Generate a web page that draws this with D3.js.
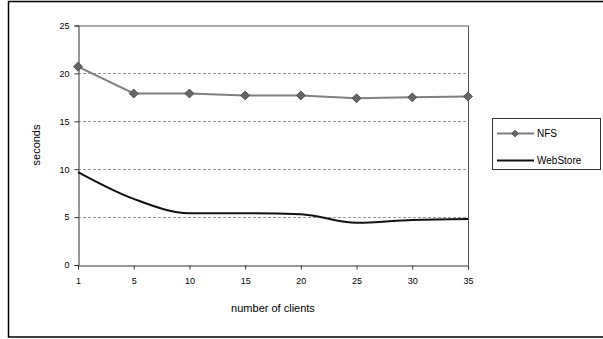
<!DOCTYPE html>
<html>
<head>
<meta charset="utf-8">
<script src="https://cdn.jsdelivr.net/npm/d3@7"></script>
<style>
  body { margin: 0; background: #fff; }
  text { font-family: Arial, "Liberation Sans", sans-serif; }
</style>
</head>
<body>
<svg id="chart" width="603" height="339"></svg>
<script>
// data
var clients = ["1", "5", "10", "15", "20", "25", "30", "35"];
var nfs = [20.7, 17.9, 17.9, 17.7, 17.7, 17.4, 17.5, 17.6];
var webStore = [9.7, 6.9, 5.4, 5.4, 5.3, 4.4, 4.7, 4.8];
var yTicks = [0, 5, 10, 15, 20, 25];
var seriesNames = ["NFS", "WebStore"];

var svg = d3.select("#chart");

// outer frame
svg.append("rect")
    .attr("x", 8.5).attr("y", 1.5)
    .attr("width", 600).attr("height", 335.5)
    .attr("fill", "none").attr("stroke", "#000").attr("stroke-width", 1.5);

var plot = {left: 78, top: 25.5, right: 468, bottom: 265};

var x = d3.scalePoint().domain(clients).range([plot.left, plot.right]);
var y = d3.scaleLinear().domain([0, 25]).range([plot.bottom, plot.top]);

// dashed grid
svg.append("g").selectAll("line")
    .data(yTicks.filter(d => d > 0 && d < 25))
    .enter().append("line")
    .attr("x1", plot.left).attr("x2", plot.right)
    .attr("y1", d => Math.round(y(d)) + 0.5).attr("y2", d => Math.round(y(d)) + 0.5)
    .attr("stroke", "#999").attr("stroke-dasharray", "3,2");

// plot border top / right
svg.append("path")
    .attr("d", "M" + plot.left + "," + (plot.top + 0.5) + "H" + (plot.right + 0.5) + "V" + plot.bottom)
    .attr("fill", "none").attr("stroke", "#555");

// axes
var yAxis = d3.axisLeft(y).tickValues(yTicks).tickSize(4).tickPadding(5);
var gy = svg.append("g").attr("transform", "translate(" + (plot.left + 0.5) + ",0)").call(yAxis);
var xAxis = d3.axisBottom(x).tickSize(4).tickPadding(8);
var gx = svg.append("g").attr("transform", "translate(0," + (plot.bottom + 0.5) + ")").call(xAxis);
[gx, gy].forEach(function (g) {
    g.select(".domain").attr("stroke", "#333");
    g.selectAll(".tick line").attr("stroke", "#333");
    g.selectAll(".tick text").attr("font-size", 9).attr("fill", "#000");
});

// axis titles
svg.append("text")
    .attr("x", 273).attr("y", 312)
    .attr("text-anchor", "middle").attr("font-size", 11)
    .text("number of clients");
svg.append("text")
    .attr("transform", "translate(40,145) rotate(-90)")
    .attr("text-anchor", "middle").attr("font-size", 11)
    .text("seconds");

// series lines
var nfsLine = d3.line().x((d, i) => x(clients[i])).y(d => y(d));
var webLine = d3.line().x((d, i) => x(clients[i])).y(d => y(d)).curve(d3.curveMonotoneX);

svg.append("path").datum(nfs)
    .attr("d", nfsLine)
    .attr("fill", "none").attr("stroke", "#808080").attr("stroke-width", 2);

svg.append("path").datum(webStore)
    .attr("d", webLine)
    .attr("fill", "none").attr("stroke", "#111").attr("stroke-width", 2);

// square diamonds like the Excel marker
var marker = d3.symbol().type(d3.symbolSquare).size(40);
svg.append("g").selectAll("path")
    .data(nfs).enter().append("path")
    .attr("d", marker)
    .attr("transform", (d, i) => "translate(" + x(clients[i]) + "," + y(d) + ") rotate(45)")
    .attr("fill", "#666").attr("stroke", "#444").attr("stroke-width", 0.8);

// legend
var legend = svg.append("g");
legend.append("rect")
    .attr("x", 492.5).attr("y", 118.5).attr("width", 108).attr("height", 51)
    .attr("fill", "#fff").attr("stroke", "#333");
var rows = legend.selectAll("g").data(seriesNames).enter().append("g")
    .attr("transform", (d, i) => "translate(0," + (133.5 + i * 27) + ")");
rows.append("line")
    .attr("x1", 497).attr("x2", 534)
    .attr("stroke", (d, i) => i === 0 ? "#808080" : "#111")
    .attr("stroke-width", 2);
rows.filter((d, i) => i === 0).append("path")
    .attr("d", d3.symbol().type(d3.symbolSquare).size(22))
    .attr("transform", "translate(515,0) rotate(45)")
    .attr("fill", "#666").attr("stroke", "#444").attr("stroke-width", 0.8);
rows.append("text")
    .attr("x", 537).attr("dy", "0.35em").attr("font-size", 10)
    .text(d => d);
</script>
</body>
</html>
